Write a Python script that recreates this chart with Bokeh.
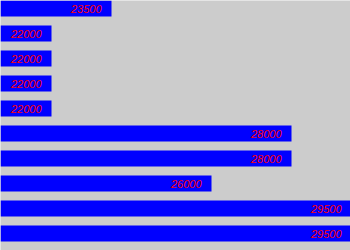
from bokeh.plotting import figure
from bokeh.models import ColumnDataSource, Range1d
from bokeh.core.properties import value
from bokeh.embed import file_html
from bokeh.resources import INLINE

values = [23500, 22000, 22000, 22000, 22000, 28000, 28000, 26000, 29500, 29500]
labels = [str(v) for v in values]
positions = list(range(len(values)))

src = ColumnDataSource(dict(y=positions, v=values, lab=labels))

p = figure(width=350, height=250, output_backend="svg", toolbar_location=None,
           x_range=Range1d(20725, 29475), y_range=Range1d(9.68, -0.32),
           min_border=0, min_border_left=0, min_border_right=0,
           min_border_top=0, min_border_bottom=0)
p.axis.visible = False
p.grid.visible = False
p.outline_line_color = None
p.background_fill_color = "#cccccc"
p.border_fill_color = "#cccccc"

p.hbar(y="y", left=0, right="v", height=0.64, source=src,
       fill_color="#0000ff", line_color=None)
p.text(x="v", y="y", text="lab", source=src, x_offset=-10,
       text_align="right", text_baseline="middle",
       text_color="#ff0000", text_font=value("Liberation Sans"),
       text_font_size="11px", text_font_style="italic")

open("out.html", "w").write(file_html(p, INLINE))
